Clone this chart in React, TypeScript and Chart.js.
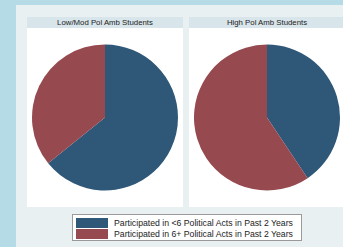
import React, { useEffect, useRef } from "react";
import { Chart, registerables } from "chart.js";

Chart.register(...registerables);

const categories = [
  "Participated in <6 Political Acts in Past 2 Years",
  "Participated in 6+ Political Acts in Past 2 Years",
];
const panelTitles = ["Low/Mod Pol Amb Students", "High Pol Amb Students"];
const lowModValues = [64.2, 35.8];
const highValues = [40.6, 59.4];
const sliceColors = ["#2f5778", "#964a50"];

function PieCanvas({ values }: { values: number[] }) {
  const ref = useRef<HTMLCanvasElement | null>(null);
  useEffect(() => {
    if (!ref.current) return;
    const chart = new Chart(ref.current, {
      type: "pie",
      data: {
        labels: categories,
        datasets: [
          {
            data: values,
            backgroundColor: sliceColors,
            borderWidth: 0,
            hoverOffset: 0,
          },
        ],
      },
      options: {
        animation: false,
        responsive: false,
        maintainAspectRatio: false,
        layout: { padding: { left: 5, right: 5, top: 16, bottom: 16 } },
        plugins: { legend: { display: false }, tooltip: { enabled: false } },
      },
    });
    return () => chart.destroy();
  }, [values]);
  return <canvas ref={ref} width={156} height={179} style={{ display: "block" }} />;
}

export default function App() {
  const font = "'Liberation Sans', Arial, sans-serif";
  const panelLefts = [27, 189];
  const panelValues = [lowModValues, highValues];
  return (
    <div
      style={{
        position: "fixed",
        left: 0,
        top: 0,
        width: 343,
        height: 247,
        background: "#b5dce6",
        overflow: "hidden",
        fontFamily: font,
      }}
    >
      <div
        style={{
          position: "absolute",
          left: 16,
          top: 5,
          width: 340,
          height: 250,
          background: "#e8f0f2",
        }}
      />
      {panelTitles.map((t, i) => (
        <div
          key={t}
          style={{
            position: "absolute",
            left: panelLefts[i],
            top: 17,
            width: 156,
            height: 190,
            background: "#ffffff",
          }}
        >
          <div
            style={{
              height: 11,
              background: "#d8e5ea",
              color: "#222",
              fontSize: 7.8,
              lineHeight: "11px",
              textAlign: "center",
              whiteSpace: "nowrap",
            }}
          >
            {t}
          </div>
          <PieCanvas values={panelValues[i]} />
        </div>
      ))}
      <div
        style={{
          position: "absolute",
          left: 72,
          top: 214,
          width: 228,
          height: 25,
          background: "#ffffff",
          border: "1px solid #9a9a9a",
        }}
      >
        {categories.map((c, i) => (
          <div
            key={c}
            style={{
              position: "absolute",
              left: 3,
              top: 3 + i * 11,
              height: 10,
              display: "flex",
              alignItems: "center",
              whiteSpace: "nowrap",
            }}
          >
            <div style={{ width: 32, height: 10, background: sliceColors[i] }} />
            <span style={{ marginLeft: 6, fontSize: 8.7, color: "#222", lineHeight: "10px" }}>{c}</span>
          </div>
        ))}
      </div>
    </div>
  );
}
